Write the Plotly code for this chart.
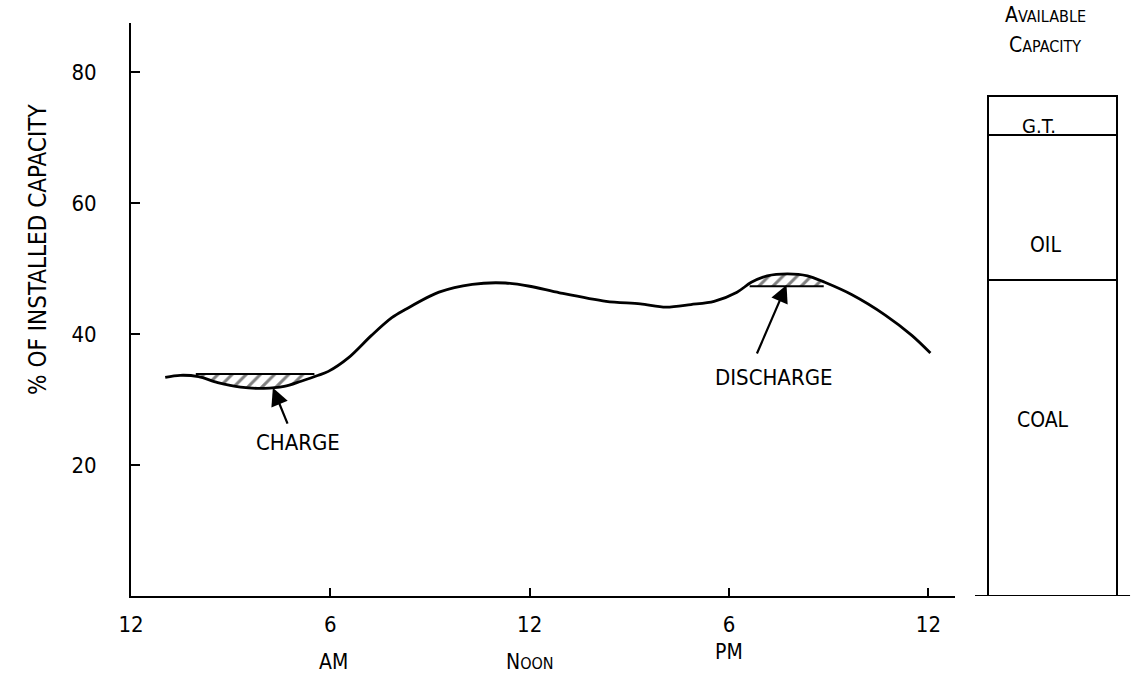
import numpy as np
import plotly.graph_objects as go

# ---- data ----
hours = [1.03, 1.48, 2.03, 2.61, 3.30, 4.00, 4.61, 5.12, 5.64, 5.94, 6.55, 7.24,
         7.85, 8.24, 9.27, 10.27, 11.27, 12.0, 12.9, 14.3, 15.33, 16.1, 16.85,
         17.55, 18.24, 18.67, 19.15, 19.76, 20.36, 20.88, 21.7, 22.7, 23.5, 24.06]
load = [33.4, 33.7, 33.5, 32.6, 31.9, 31.7, 32.0, 32.8, 33.7, 34.3, 36.4, 39.8,
        42.5, 43.7, 46.4, 47.6, 47.8, 47.3, 46.3, 45.0, 44.6, 44.1, 44.5,
        45.0, 46.4, 47.9, 48.9, 49.2, 48.9, 47.9, 46.0, 42.9, 39.8, 37.1]

charge_span = [1.95, 5.52]
charge_level = 33.9
discharge_span = [18.62, 20.85]
discharge_level = 47.3

x_tickvals = [0, 6, 12, 18, 24]
x_ticktext = ["12", "6", "12", "6", "12"]
y_tickvals = [20, 40, 60, 80]

capacity_types = ["COAL", "OIL", "G.T."]
capacity_share = [48.2, 22.2, 5.9]

FONT = "DejaVu Sans Condensed, DejaVu Sans, sans-serif"

fig = go.Figure()

# hatched storage regions
def region(span, level):
    a, b = span
    xs_in = [h for h in hours if a < h < b]
    ys_in = [l for h, l in zip(hours, load) if a < h < b]
    xs = [a] + xs_in + [b, b, a]
    ys = [float(np.interp(a, hours, load))] + ys_in + [float(np.interp(b, hours, load)), level, level]
    return xs, ys

for span, level in [(charge_span, charge_level), (discharge_span, discharge_level)]:
    xs, ys = region(span, level)
    fig.add_trace(go.Scatter(
        x=xs, y=ys, mode="lines", fill="toself",
        line=dict(width=0, color="rgba(0,0,0,0)"),
        fillcolor="white",
        fillpattern=dict(shape="/", fgcolor="black", bgcolor="white", size=10, solidity=0.3),
        hoverinfo="skip", showlegend=False))
    fig.add_trace(go.Scatter(
        x=span, y=[level, level], mode="lines",
        line=dict(color="black", width=2), hoverinfo="skip", showlegend=False))

# load curve
fig.add_trace(go.Scatter(
    x=hours, y=load, mode="lines",
    line=dict(color="black", width=2.8, shape="spline", smoothing=0.9),
    showlegend=False))

# available capacity column
for name, val in zip(capacity_types, capacity_share):
    fig.add_trace(go.Bar(
        x=[0.5], y=[val], width=0.78, name=name, xaxis="x2", yaxis="y",
        marker=dict(color="white", line=dict(color="black", width=2)),
        showlegend=False, hoverinfo="skip"))

fig.add_shape(type="line", xref="x2", yref="y", x0=0.03, x1=0.97, y0=0, y1=0,
              line=dict(color="black", width=2))

def f(size):
    return dict(size=size, family=FONT, color="black")

ann = []
# arrows
ann.append(dict(x=4.27, y=31.8, ax=4.73, ay=26.1, axref="x", ayref="y", xref="x", yref="y",
                text="", showarrow=True, arrowhead=2, arrowsize=1.6, arrowwidth=2.2, arrowcolor="black"))
ann.append(dict(x=19.73, y=47.5, ax=18.82, ay=36.8, axref="x", ayref="y", xref="x", yref="y",
                text="", showarrow=True, arrowhead=2, arrowsize=1.6, arrowwidth=2.2, arrowcolor="black"))
ann.append(dict(x=5.03, y=23.4, xref="x", yref="y", text="CHARGE", showarrow=False, font=f(22)))
ann.append(dict(x=19.36, y=33.3, xref="x", yref="y", text="DISCHARGE", showarrow=False, font=f(22)))
# second row of x labels
ann.append(dict(x=6.1, y=-0.115, xref="x", yref="paper", text="AM", showarrow=False,
                yanchor="middle", font=f(21)))
ann.append(dict(x=12.0, y=-0.115, xref="x", yref="paper",
                text="N<span style='font-size:16px'>OON</span>", showarrow=False,
                yanchor="middle", font=f(21)))
ann.append(dict(x=18.0, y=-0.098, xref="x", yref="paper", text="PM", showarrow=False,
                yanchor="middle", font=f(21)))
# y title
ann.append(dict(x=-0.0926, y=0.604, xref="paper", yref="paper", text="% OF INSTALLED CAPACITY",
                textangle=-90, showarrow=False, xanchor="center", yanchor="middle", font=f(24)))
# capacity column labels
ann.append(dict(x=0.455, y=1.014, xref="x2", yref="paper",
                text="A<span style='font-size:16px'>VAILABLE</span>", showarrow=False,
                yanchor="middle", font=f(21)))
ann.append(dict(x=0.455, y=0.962, xref="x2", yref="paper",
                text="C<span style='font-size:16px'>APACITY</span>", showarrow=False,
                yanchor="middle", font=f(21)))
ann.append(dict(x=0.44, y=26.9, xref="x2", yref="y", text="COAL", showarrow=False, font=f(21)))
ann.append(dict(x=0.455, y=53.6, xref="x2", yref="y", text="OIL", showarrow=False, font=f(21)))
ann.append(dict(x=0.42, y=71.8, xref="x2", yref="y", text="G.T.", showarrow=False, font=f(20)))

fig.update_layout(
    width=1135, height=678,
    margin=dict(l=131, r=0, t=23, b=82, autoexpand=False),
    paper_bgcolor="white", plot_bgcolor="white",
    barmode="stack", bargap=0,
    annotations=ann,
    xaxis=dict(domain=[0, 0.8207], range=[0, 24.8], showgrid=False, zeroline=False,
               automargin=False,
               showline=True, linecolor="black", linewidth=2,
               tickmode="array", tickvals=x_tickvals, ticktext=x_ticktext,
               ticks="inside", ticklen=8, tickwidth=2, tickcolor="black",
               ticklabelstandoff=8, tickfont=f(22)),
    xaxis2=dict(domain=[0.8357, 1.0], range=[0, 1], visible=False, anchor="y"),
    yaxis=dict(range=[0, 87.5], showgrid=False, zeroline=False,
               automargin=False,
               showline=True, linecolor="black", linewidth=2,
               tickmode="array", tickvals=y_tickvals,
               ticks="inside", ticklen=9, tickwidth=2, tickcolor="black",
               ticklabelstandoff=28, tickfont=f(22)),
)

fig.write_html("out.html", config={"displayModeBar": False},
               post_script="document.body.style.margin='0';document.body.style.overflow='hidden';")
